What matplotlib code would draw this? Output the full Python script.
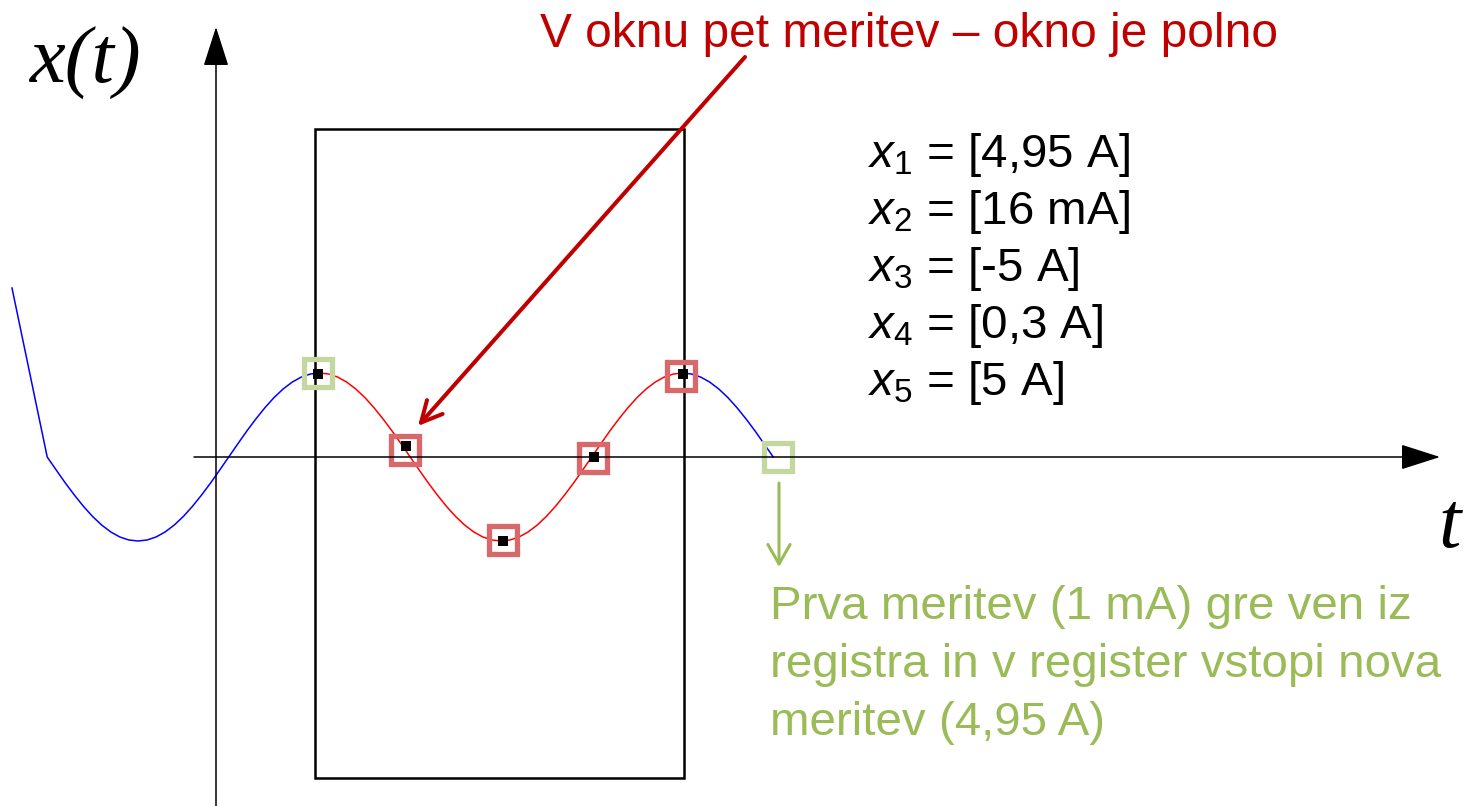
import matplotlib.pyplot as plt
from matplotlib.patches import Rectangle

plt.rcParams['font.family'] = ['Liberation Sans', 'DejaVu Sans']
plt.rcParams['mathtext.fontset'] = 'custom'
plt.rcParams['mathtext.it'] = 'Liberation Sans:italic'
plt.rcParams['mathtext.rm'] = 'Liberation Sans'

# signal before the window (blue)
blue_left_t = [-5.62, -4.65, -4.40, -4.15, -3.90, -3.65, -3.40, -3.15, -2.90, -2.65, -2.40,
               -2.15, -1.90, -1.65, -1.40, -1.15, -0.90, -0.65, -0.40, -0.15, 0.10,
               0.35, 0.60, 0.85, 1.10, 1.35, 1.60, 1.85, 2.10, 2.35, 2.60, 2.85]
blue_left_x = [10.06, 0.00, -0.78, -1.55, -2.27, -2.94, -3.54, -4.05, -4.46, -4.76, -4.94,
               -5.00, -4.94, -4.76, -4.46, -4.05, -3.54, -2.94, -2.27, -1.55, -0.78,
               0.00, 0.78, 1.55, 2.27, 2.94, 3.54, 4.05, 4.46, 4.76, 4.94, 5.00]

# signal inside the window (red)
red_t = [2.85, 3.10, 3.35, 3.60, 3.85, 4.10, 4.35, 4.60, 4.85, 5.10, 5.35,
         5.60, 5.85, 6.10, 6.35, 6.60, 6.85, 7.10, 7.35, 7.60, 7.85,
         8.10, 8.35, 8.60, 8.85, 9.10, 9.35, 9.60, 9.85, 10.10, 10.35,
         10.60, 10.85, 11.10, 11.35, 11.60, 11.85, 12.10, 12.35, 12.60, 12.85]
red_x = [5.00, 4.94, 4.76, 4.46, 4.05, 3.54, 2.94, 2.27, 1.55, 0.78, 0.00,
         -0.78, -1.55, -2.27, -2.94, -3.54, -4.05, -4.46, -4.76, -4.94, -5.00,
         -4.94, -4.76, -4.46, -4.05, -3.54, -2.94, -2.27, -1.55, -0.78, 0.00,
         0.78, 1.55, 2.27, 2.94, 3.54, 4.05, 4.46, 4.76, 4.94, 5.00]

# signal after the window (blue)
blue_right_t = [12.85, 13.10, 13.35, 13.60, 13.85, 14.10, 14.35, 14.60, 14.85, 15.10, 15.35]
blue_right_x = [5.00, 4.94, 4.76, 4.46, 4.05, 3.54, 2.94, 2.27, 1.55, 0.78, 0.00]

# samples
sample_t = [2.81, 5.23, 7.91, 10.41, 12.87]
sample_x = [4.94, 0.65, -5.00, 0.00, 4.94]
window_box_t = [5.21, 7.91, 10.39, 12.81]
window_box_x = [0.42, -4.94, -0.06, 4.82]
out_box_t = [2.81, 15.48]
out_box_x = [5.00, 0.00]

window_t = (2.73, 12.89)
window_x = (-19.11, 19.52)

eq_labels = ['$x_1$ = [4,95 A]', '$x_2$ = [16 mA]', '$x_3$ = [-5 A]',
             '$x_4$ = [0,3 A]', '$x_5$ = [5 A]']
title = 'V oknu pet meritev \u2013 okno je polno'
note_lines = ['Prva meritev (1 mA) gre ven iz',
              'registra in v register vstopi nova',
              'meritev (4,95 A)']

W, H = 1464, 806
fig = plt.figure(figsize=(W / 100, H / 100), dpi=100)
ax = fig.add_axes([0, 0, 1, 1])
ax.set_xlim(-216 / 36.3, (W - 216) / 36.3)
ax.set_ylim((457 - H) / 16.8, 457 / 16.8)
ax.axis('off')


def P(x, y):
    # pixel position -> figure fraction
    return (x / W, 1 - y / H)


tf = fig.transFigure

# axes arrows
ax.annotate('', xy=P(1440, 457), xytext=P(194, 457), xycoords=tf, textcoords=tf,
            arrowprops=dict(arrowstyle='-|>,head_length=25,head_width=8', mutation_scale=1,
                            color='black', lw=1.1, shrinkA=0, shrinkB=0))
ax.annotate('', xy=P(216, 27), xytext=P(216, 806), xycoords=tf, textcoords=tf,
            arrowprops=dict(arrowstyle='-|>,head_length=25,head_width=8', mutation_scale=1,
                            color='black', lw=1.1, shrinkA=0, shrinkB=0))

# window
ax.add_patch(Rectangle((window_t[0], window_x[0]), window_t[1] - window_t[0],
                       window_x[1] - window_x[0], fill=False, ec='black', lw=1.8))

# signal
ax.plot(blue_left_t, blue_left_x, color='#0000FF', lw=1.1)
ax.plot(red_t, red_x, color='#FF0000', lw=1.1)
ax.plot(blue_right_t, blue_right_x, color='#0000FF', lw=1.1)

ax.plot(window_box_t, window_box_x, 's', ms=19.5, mfc='none', mec='#D9686B', mew=3.8)
ax.plot(out_box_t, out_box_x, 's', ms=19.5, mfc='none', mec='#C4D79E', mew=3.8)
ax.plot(sample_t, sample_x, 's', ms=6.8, color='black', mew=0)

# axis labels
ax.text(*P(30, 83), 'x(t)', transform=tf, fontsize=58, family='Liberation Serif',
        style='italic', ha='left', va='baseline')
ax.text(*P(1438, 547), 't', transform=tf, fontsize=58, family='Liberation Serif',
        style='italic', ha='left', va='baseline')

# red annotation
ax.text(*P(540, 47), title, transform=tf, fontsize=34.5, color='#C00000',
        ha='left', va='baseline')
ax.annotate('', xy=P(418, 426), xytext=P(745, 57), xycoords=tf, textcoords=tf,
            arrowprops=dict(arrowstyle='->,head_length=15,head_width=7.5', mutation_scale=1,
                            color='#C00000', lw=2.9, shrinkA=0, shrinkB=0))

# values in the register
for i, s in enumerate(eq_labels):
    ax.text(*P(868, 167 + 57 * i), s, transform=tf, fontsize=34.2, ha='left', va='baseline')

# green annotation
ax.annotate('', xy=P(779, 567), xytext=P(779, 483), xycoords=tf, textcoords=tf,
            arrowprops=dict(arrowstyle='->,head_length=14,head_width=8', mutation_scale=1,
                            color='#9BBB59', lw=2.2, shrinkA=0, shrinkB=0))
for i, s in enumerate(note_lines):
    ax.text(*P(770, 619 + 58 * i), s, transform=tf, fontsize=34.2, color='#9BBB59',
            ha='left', va='baseline')

fig.savefig('out.png', dpi=100)
